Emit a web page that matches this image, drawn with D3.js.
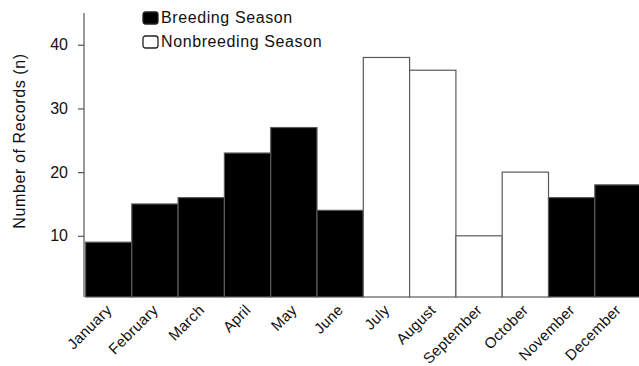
<!DOCTYPE html>
<html>
<head>
<meta charset="utf-8">
<script src="https://cdn.jsdelivr.net/npm/d3@7"></script>
<style>
  html, body { margin: 0; padding: 0; background: #fff; }
  svg { display: block; }
  text { font-family: "Liberation Sans", Arial, Helvetica, sans-serif; fill: #111; }
</style>
</head>
<body>
<svg id="chart" width="639" height="366"></svg>
<script>
const months = ["January","February","March","April","May","June","July","August","September","October","November","December"];
const records = [9, 15, 16, 23, 27, 14, 38, 36, 10, 20, 16, 18];
const season = ["Breeding","Breeding","Breeding","Breeding","Breeding","Breeding","Nonbreeding","Nonbreeding","Nonbreeding","Nonbreeding","Breeding","Breeding"];
const yTicks = [10, 20, 30, 40];
const legendLabels = ["Breeding Season", "Nonbreeding Season"];
const legendKeys = ["Breeding", "Nonbreeding"];

const svg = d3.select("#chart");
const axisX = 84, plotBottom = 297;

const x = d3.scaleBand().domain(months).range([85.5, 85.5 + 12 * 46.3]).padding(0);
const y = d3.scaleLinear().domain([0, 45]).range([299.5, 12.9]);
const fill = d3.scaleOrdinal().domain(legendKeys).range(["#000", "#fff"]);

// bars
svg.append("g").selectAll("rect")
  .data(months.map((m, i) => ({m, v: records[i], s: season[i]})))
  .join("rect")
  .attr("x", d => x(d.m))
  .attr("y", d => y(d.v))
  .attr("width", x.bandwidth())
  .attr("height", d => plotBottom - y(d.v))
  .attr("fill", d => fill(d.s))
  .attr("stroke", "#5a5a5a")
  .attr("stroke-width", 1.2);

// y axis
const yAxis = d3.axisLeft(y).tickValues(yTicks).tickSize(6).tickPadding(10);
const gy = svg.append("g").attr("transform", `translate(${axisX},0)`).call(yAxis);
gy.select(".domain").remove();
gy.selectAll(".tick line").attr("stroke", "#555").attr("stroke-width", 1.2);
gy.selectAll(".tick text")
  .attr("font-size", 16).attr("fill", "#111")
  .style("font-family", '"Liberation Sans", Arial, sans-serif');
svg.append("line")
  .attr("x1", axisX).attr("x2", axisX)
  .attr("y1", y(45)).attr("y2", plotBottom)
  .attr("stroke", "#555").attr("stroke-width", 1.2);

// y label
svg.append("text")
  .attr("transform", `translate(24.5, 141) rotate(-90)`)
  .attr("text-anchor", "middle")
  .attr("font-size", 16)
  .attr("letter-spacing", 0.6)
  .text("Number of Records (n)");

// x labels
svg.append("g").selectAll("text")
  .data(months)
  .join("text")
  .attr("transform", d => `translate(${x(d) + x.bandwidth() / 2 + 4}, 311) rotate(-45)`)
  .attr("text-anchor", "end")
  .attr("font-size", 15)
  .attr("letter-spacing", 0.3)
  .text(d => d);

// legend
const lg = svg.append("g").selectAll("g")
  .data(legendKeys)
  .join("g")
  .attr("transform", (d, i) => `translate(143, ${12 + i * 24})`);
lg.append("rect")
  .attr("width", 15).attr("height", 12).attr("rx", 2.5)
  .attr("fill", d => fill(d))
  .attr("stroke", "#222").attr("stroke-width", 1.3);
lg.append("text")
  .attr("x", 18).attr("y", 11.3)
  .attr("font-size", 16)
  .attr("letter-spacing", 0.6)
  .text((d, i) => legendLabels[i]);
</script>
</body>
</html>
